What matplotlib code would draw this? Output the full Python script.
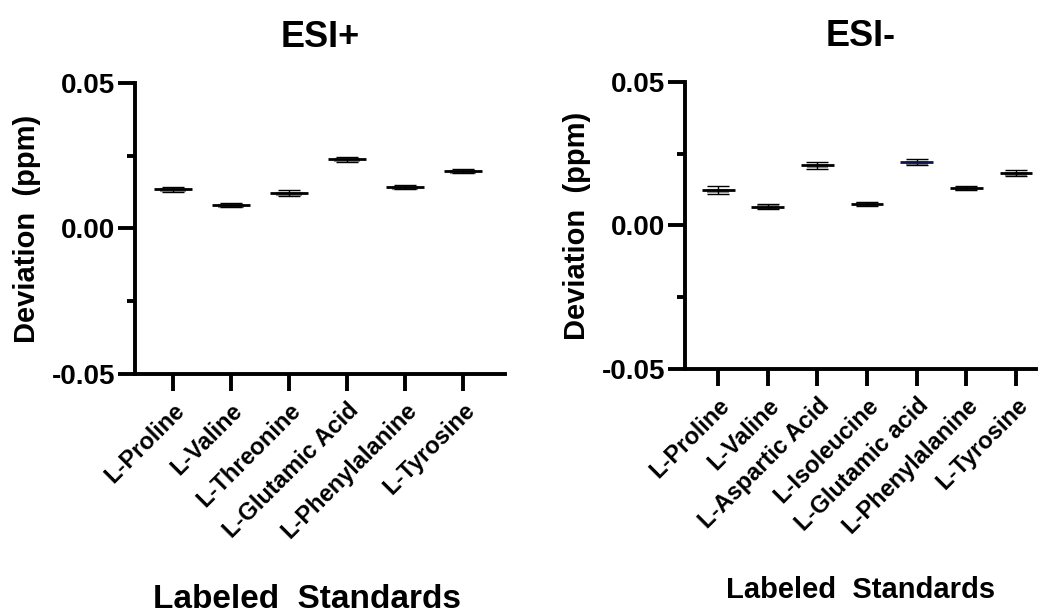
import numpy as np
import matplotlib.pyplot as plt

plt.rcParams['font.family'] = ['Liberation Sans', 'DejaVu Sans']
plt.rcParams['font.weight'] = 'bold'

# ESI+ standards: mean deviation and error (ppm)
pos_names = ["L-Proline", "L-Valine", "L-Threonine", "L-Glutamic Acid",
             "L-Phenylalanine", "L-Tyrosine"]
pos_mean = [0.0134, 0.0080, 0.0122, 0.0238, 0.0143, 0.0197]
pos_err = [0.0008, 0.0007, 0.0011, 0.0009, 0.0007, 0.0008]

# ESI- standards
neg_names = ["L-Proline", "L-Valine", "L-Aspartic Acid", "L-Isoleucine",
             "L-Glutamic acid", "L-Phenylalanine", "L-Tyrosine"]
neg_mean = [0.0125, 0.0066, 0.0210, 0.0076, 0.0220, 0.0131, 0.0182]
neg_err = [0.0014, 0.0008, 0.0012, 0.0007, 0.0010, 0.0008, 0.0011]
neg_mean_colors = ["black", "black", "black", "black", "#0d1550", "black", "black"]


def draw_panel(ax, names, means, errs, title, xlim, colors=None,
               xlabelpad=14, xlabelsize=23):
    x = np.arange(len(names))
    if colors is None:
        colors = ["black"] * len(names)
    # gray band behind the mean (replicate points)
    for xi, m, e, c in zip(x, means, errs, colors):
        ax.plot([xi - 0.22, xi + 0.22], [m - e * 0.35, m - e * 0.35],
                color="#8a8a8a", lw=3, solid_capstyle="butt", zorder=1)
        ax.plot([xi - 0.33, xi + 0.33], [m, m], color=c, lw=2,
                solid_capstyle="butt", zorder=3)
    ax.errorbar(x, means, yerr=errs, fmt="none", ecolor="black",
                elinewidth=1.0, capsize=8, capthick=1.0, zorder=2)

    ax.set_xlim(*xlim)
    ax.set_ylim(-0.05, 0.05)
    ax.set_yticks([-0.05, 0.0, 0.05])
    ax.set_yticklabels(["-0.05", "0.00", "0.05"])
    ax.set_yticks([-0.025, 0.025], minor=True)
    ax.set_xticks(x)
    ax.set_xticklabels(names, rotation=45, ha="right", rotation_mode="anchor",
                       fontsize=17, fontweight="bold")
    for s in ["top", "right"]:
        ax.spines[s].set_visible(False)
    for s in ["left", "bottom"]:
        ax.spines[s].set_linewidth(2.8)
    ax.tick_params(axis="y", which="major", length=12, width=2.8,
                   labelsize=20, pad=2)
    ax.tick_params(axis="y", which="minor", length=6, width=2.8)
    ax.tick_params(axis="x", length=12, width=2.8, pad=6)
    for lab in ax.get_yticklabels():
        lab.set_fontweight("bold")
    ax.set_title(title, fontsize=26, fontweight="bold", pad=26)
    ax.set_ylabel("Deviation  (ppm)", fontsize=21, fontweight="bold", labelpad=8)
    ax.set_xlabel("Labeled  Standards", fontsize=xlabelsize, fontweight="bold",
                  labelpad=xlabelpad)


fig = plt.figure(figsize=(10.41, 6.16), dpi=100)
ax1 = fig.add_axes([0.1297, 0.3929, 0.3554, 0.4724])
ax2 = fig.add_axes([0.658, 0.401, 0.337, 0.466])

draw_panel(ax1, pos_names, pos_mean, pos_err, "ESI+", (-0.65, 5.72),
           xlabelpad=30, xlabelsize=24)
ax1.xaxis.set_label_coords(0.465, -0.722)
draw_panel(ax2, neg_names, neg_mean, neg_err, "ESI-", (-0.67, 6.4),
           colors=neg_mean_colors, xlabelpad=27, xlabelsize=21)

fig.savefig("out.png", dpi=100)
